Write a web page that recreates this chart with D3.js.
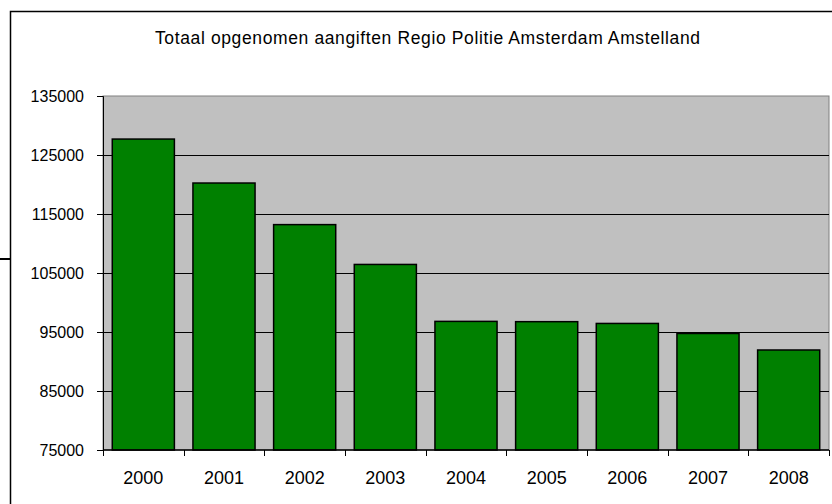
<!DOCTYPE html>
<html>
<head>
<meta charset="utf-8">
<script src="https://cdn.jsdelivr.net/npm/d3@7"></script>
<style>
  body { margin: 0; background: #fff; }
  text { font-family: Arial, "Liberation Sans", sans-serif; fill: #000; }
</style>
</head>
<body>
<svg id="screen" width="832" height="504"></svg>
<script>
const years = ['2000', '2001', '2002', '2003', '2004', '2005', '2006', '2007', '2008'];
const aangiften = [127700, 120250, 113200, 106450, 96800, 96750, 96450, 94750, 91950];
const yTicks = [75000, 85000, 95000, 105000, 115000, 125000, 135000];
const title = 'Totaal opgenomen aangiften Regio Politie Amsterdam Amstelland';

const svg = d3.select('#screen');
const plotLeft = 103, plotRight = 829, plotTop = 96, plotBottom = 450;

// outer chart frame (runs off the picture on right and bottom)
svg.append('path')
  .attr('d', 'M10.5,520 V11.5 H840')
  .attr('fill', 'none').attr('stroke', '#000').attr('stroke-width', 1.5);
svg.append('line')
  .attr('x1', 0).attr('x2', 10).attr('y1', 259).attr('y2', 259)
  .attr('stroke', '#000').attr('stroke-width', 2);

svg.append('text')
  .attr('x', 155).attr('y', 44)
  .attr('textLength', 545)
  .attr('lengthAdjust', 'spacing')
  .style('font-size', '17.5px')
  .text(title);

const x = d3.scaleBand().domain(years).range([plotLeft, plotRight])
  .paddingInner(0.23).paddingOuter(0.115);
const y = d3.scaleLinear().domain([75000, 135000]).range([plotBottom, plotTop]);

// plot area
svg.append('rect')
  .attr('x', plotLeft).attr('y', plotTop)
  .attr('width', plotRight - plotLeft).attr('height', plotBottom - plotTop)
  .attr('fill', '#c0c0c0').attr('stroke', '#808080').attr('stroke-width', 1);

svg.append('g')
  .selectAll('line')
  .data(yTicks.filter(d => d > 75000 && d < 135000))
  .enter()
  .append('line')
  .attr('x1', plotLeft).attr('x2', plotRight)
  .attr('y1', d => Math.round(y(d)) + 0.5).attr('y2', d => Math.round(y(d)) + 0.5)
  .attr('stroke', '#000').attr('stroke-width', 1);

svg.append('g')
  .selectAll('rect')
  .data(aangiften)
  .enter()
  .append('rect')
  .attr('x', (d, i) => x(years[i]))
  .attr('y', d => y(d))
  .attr('width', x.bandwidth())
  .attr('height', d => plotBottom - y(d))
  .attr('fill', '#008000')
  .attr('stroke', '#000')
  .attr('stroke-width', 1.5);

// y axis
const yAxis = svg.append('g')
  .attr('transform', `translate(${plotLeft},0)`)
  .call(d3.axisLeft(y).tickValues(yTicks).tickFormat(d3.format('d')).tickSize(6).tickPadding(13));
yAxis.select('.domain').attr('stroke', '#000');
yAxis.selectAll('text').style('font-size', '16px');

// x axis: ticks at category boundaries
const bounds = years.map(d => x(d) - x.paddingOuter() * x.step()).concat([plotRight]);
svg.append('line')
  .attr('x1', plotLeft).attr('x2', plotRight).attr('y1', plotBottom).attr('y2', plotBottom)
  .attr('stroke', '#000').attr('stroke-width', 1.5);
svg.append('g')
  .selectAll('line')
  .data(bounds)
  .enter()
  .append('line')
  .attr('x1', d => Math.round(d) + 0.5).attr('x2', d => Math.round(d) + 0.5)
  .attr('y1', plotBottom).attr('y2', plotBottom + 6)
  .attr('stroke', '#000');
svg.append('g')
  .selectAll('text')
  .data(years)
  .enter()
  .append('text')
  .attr('x', d => x(d) + x.bandwidth() / 2)
  .attr('y', 484)
  .attr('text-anchor', 'middle')
  .style('font-size', '18px')
  .text(d => d);
</script>
</body>
</html>
